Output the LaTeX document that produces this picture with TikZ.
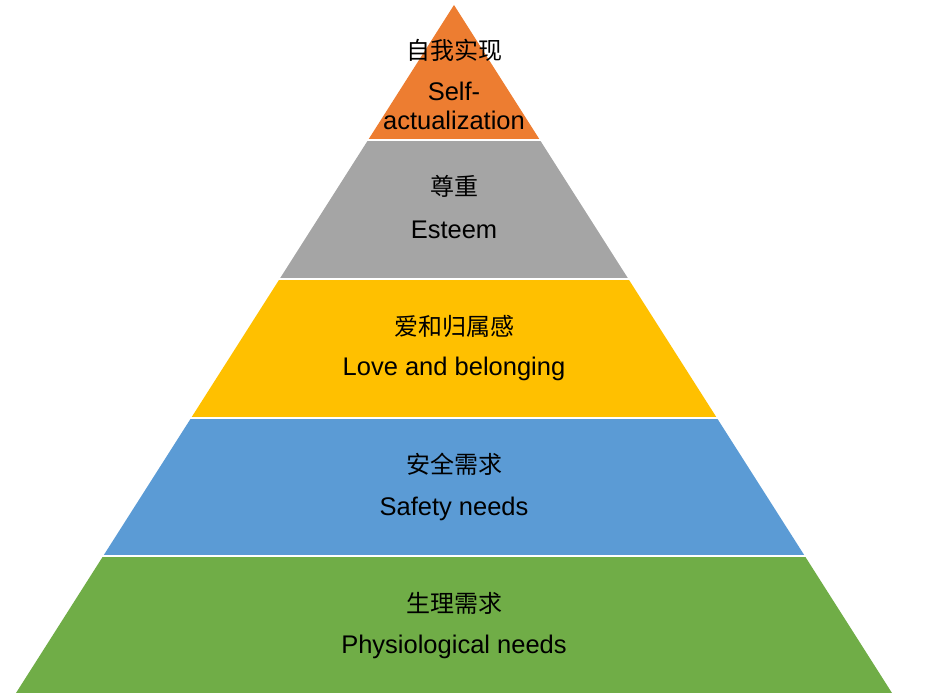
\documentclass[tikz,border=0pt]{standalone}
\usepackage{fontspec}
\setmainfont{Liberation Sans}
\newfontfamily\cjk{Noto Sans CJK SC}
\usepackage{tikz}
\definecolor{selforange}{HTML}{ED7D31}
\definecolor{esteemgray}{HTML}{A5A5A5}
\definecolor{loveyellow}{HTML}{FFC000}
\definecolor{safetyblue}{HTML}{5B9BD5}
\definecolor{physgreen}{HTML}{70AD47}
\tikzset{
  cn/.style={font=\cjk\fontsize{24}{28}\selectfont, inner sep=0pt},
  en/.style={font=\fontsize{25.5}{29}\selectfont, inner sep=0pt, anchor=base},
  gap/.style={white, line width=2pt}
}

\begin{document}
\begin{tikzpicture}[x=1pt, y=1pt]
    \useasboundingbox (0,0) rectangle (935,695);

    \fill[selforange] (454,690) -- (368.1,555) -- (539.9,555) -- cycle;
    \fill[esteemgray] (368.1,555) -- (279.6,416) -- (628.4,416) -- (539.9,555) -- cycle;
    \fill[loveyellow] (279.6,416) -- (191.1,277) -- (716.9,277) -- (628.4,416) -- cycle;
    \fill[safetyblue] (191.1,277) -- (103.2,139) -- (804.8,139) -- (716.9,277) -- cycle;
    \fill[physgreen] (103.2,139) -- (16,2) -- (892,2) -- (804.8,139) -- cycle;

    \draw[gap] (360,555) -- (548,555) (270,416) -- (638,416)
               (182,277) -- (726,277) (94,139) -- (814,139);

    \node[cn](C1) at (454,645) {自我实现};
    \node[en](E1a) at (454,594) {Self-};
    \node[en](E1b) at (454,565) {actualization};
    \node[cn](C2) at (454,509) {尊重};
    \node[en](E2) at (454,456) {Esteem};
    \node[cn](C3) at (454,369) {爱和归属感};
    \node[en](E3) at (454,319) {Love and belonging};
    \node[cn](C4) at (454,231) {安全需求};
    \node[en](E4) at (454,179) {Safety needs};
    \node[cn](C5) at (454,92) {生理需求};
    \node[en](E5) at (454,41) {Physiological needs};
  \end{tikzpicture}
\end{document}
